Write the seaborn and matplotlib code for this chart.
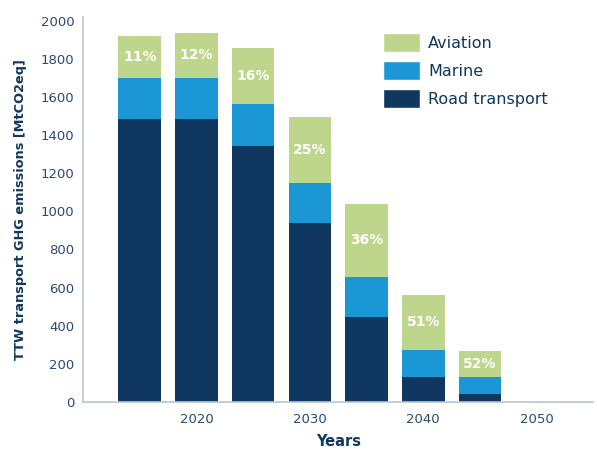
import pandas as pd
import matplotlib.pyplot as plt
import seaborn as sns
from matplotlib.patches import Patch

years = [2015, 2020, 2025, 2030, 2035, 2040, 2045]
road = [1486, 1486, 1344, 940, 446, 131, 42]
marine = [215, 215, 221, 210, 210, 142, 89]
aviation = [220, 236, 293, 346, 384, 289, 137]
share_labels = ['11%', '12%', '16%', '25%', '36%', '51%', '52%']

c_av = '#bed58c'
c_mar = '#1b97d5'
c_road = '#10375f'
c_text = '#2a4a72'
c_axis = '#bcc6ce'

df = pd.DataFrame({'Year': years, 'Road': road, 'Marine': marine, 'Aviation': aviation})
df['RoadMarine'] = df['Road'] + df['Marine']
df['Total'] = df['RoadMarine'] + df['Aviation']

sns.set_style('white')
plt.rcParams['font.family'] = ['DejaVu Sans']

fig = plt.figure(figsize=(5.97, 4.51), dpi=100)
ax = fig.add_axes([0.139, 0.109, 0.855, 0.853])

# stacked by overlaying cumulative totals
for col, color in [('Total', c_av), ('RoadMarine', c_mar), ('Road', c_road)]:
    sns.barplot(data=df, x='Year', y=col, native_scale=True, width=0.75,
                color=color, saturation=1, edgecolor='none', ax=ax)

for i, row in df.iterrows():
    mid = row['RoadMarine'] + row['Aviation'] / 2
    ax.text(row['Year'], mid, share_labels[i], ha='center', va='center',
            color='white', fontsize=10, fontweight='bold')

ax.set_xlim(2010, 2055)
ax.set_ylim(0, 2020)
ax.set_xticks([2020, 2030, 2040, 2050])
ax.set_xticks([2015, 2025, 2035, 2045], minor=True)
ax.set_yticks(range(0, 2001, 200))
ax.tick_params(axis='both', direction='in', colors=c_axis, labelcolor=c_text,
               labelsize=9.5, length=4, width=1)
ax.tick_params(axis='x', which='minor', direction='in', colors=c_axis, length=4, width=1)
ax.tick_params(axis='x', pad=8)
ax.tick_params(axis='y', pad=6)
ax.set_axisbelow(False)

for s in ['top', 'right']:
    ax.spines[s].set_visible(False)
for s in ['left', 'bottom']:
    ax.spines[s].set_color(c_axis)
    ax.spines[s].set_linewidth(1.2)

ax.set_xlabel('Years', fontsize=10.5, fontweight='bold', color=c_road, labelpad=6)
ax.set_ylabel('TTW transport GHG emissions [MtCO2eq]', fontsize=9.3,
              fontweight='bold', color=c_road, labelpad=10)

handles = [Patch(facecolor=c_av, label='Aviation'),
           Patch(facecolor=c_mar, label='Marine'),
           Patch(facecolor=c_road, label='Road transport')]
leg = ax.legend(handles=handles, loc='upper left', bbox_to_anchor=(0.56, 0.995),
                frameon=False, fontsize=11.5, handlelength=2.3, handleheight=1.4,
                labelspacing=0.6, handletextpad=0.5)
for t in leg.get_texts():
    t.set_color(c_road)

fig.savefig('out.png', dpi=100)
